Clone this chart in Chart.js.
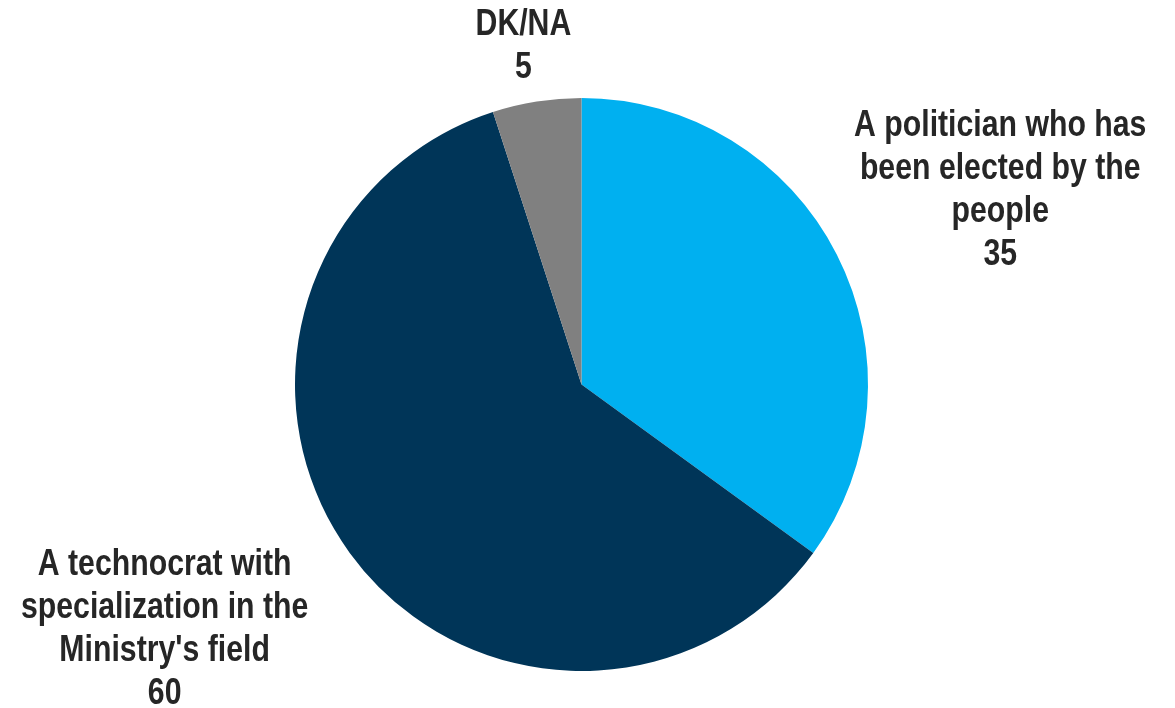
<!DOCTYPE html>
<html>
<head>
<meta charset="utf-8">
<script src="https://cdn.jsdelivr.net/npm/chart.js@4"></script>
<style>
  html, body { margin: 0; padding: 0; background: #ffffff; }
  #wrap { width: 1175px; height: 708px; }
</style>
</head>
<body>
<div id="wrap"><canvas id="grafico"></canvas></div>
<script>
// Datos del gráfico
const categorias = [
  ['A politician who has', 'been elected by the', 'people'],
  ['A technocrat with', 'specialization in the', "Ministry's field"],
  ['DK/NA']
];
const valores = [35, 60, 5];
const colores = ['#00B0F0', '#003558', '#808080'];

// Ajuste de cada etiqueta: distancia relativa al radio y giro en grados
const ajusteEtiquetas = [
  { factor: 1.61, giro: 2.2 },
  { factor: 1.687, giro: 5.6 },
  { factor: 1.197, giro: -0.75 }
];

const fuente = 'bold 36px "Liberation Sans", Arial, sans-serif';
const estrechar = 0.84; // simula una fuente estrecha (Arial Narrow)
const altoLinea = 43;

// Plugin para dibujar las etiquetas fuera del pastel
const etiquetasPlugin = {
  id: 'etiquetasPastel',
  afterDraw(chart) {
    const ctx = chart.ctx;
    const meta = chart.getDatasetMeta(0);
    meta.data.forEach((arc, i) => {
      const p = arc.getProps(['x', 'y', 'startAngle', 'endAngle', 'outerRadius'], true);
      const medio = (p.startAngle + p.endAngle) / 2 + ajusteEtiquetas[i].giro * Math.PI / 180;
      const d = p.outerRadius * ajusteEtiquetas[i].factor;
      const cx = p.x + Math.cos(medio) * d;
      const cy = p.y + Math.sin(medio) * d;
      const lineas = categorias[i].concat([String(valores[i])]);
      const y0 = cy - (lineas.length - 1) * altoLinea / 2;
      ctx.save();
      ctx.translate(cx, 0);
      ctx.scale(estrechar, 1);
      ctx.font = fuente;
      ctx.fillStyle = '#262626';
      ctx.textAlign = 'center';
      ctx.textBaseline = 'middle';
      lineas.forEach((t, k) => ctx.fillText(t, 0, y0 + k * altoLinea));
      ctx.restore();
    });
  }
};

const ctx = document.getElementById('grafico').getContext('2d');
const chart = new Chart(ctx, {
  type: 'pie',
  data: {
    labels: categorias.map(c => c.join(' ')),
    datasets: [{
      data: valores,
      backgroundColor: colores,
      borderWidth: 0
    }]
  },
  options: {
    responsive: true,
    maintainAspectRatio: false,
    animation: false,
    layout: { padding: { top: 98, bottom: 37, left: 295, right: 307 } },
    plugins: {
      legend: { display: false },
      tooltip: { enabled: false }
    }
  },
  plugins: [etiquetasPlugin]
});
</script>
</body>
</html>
